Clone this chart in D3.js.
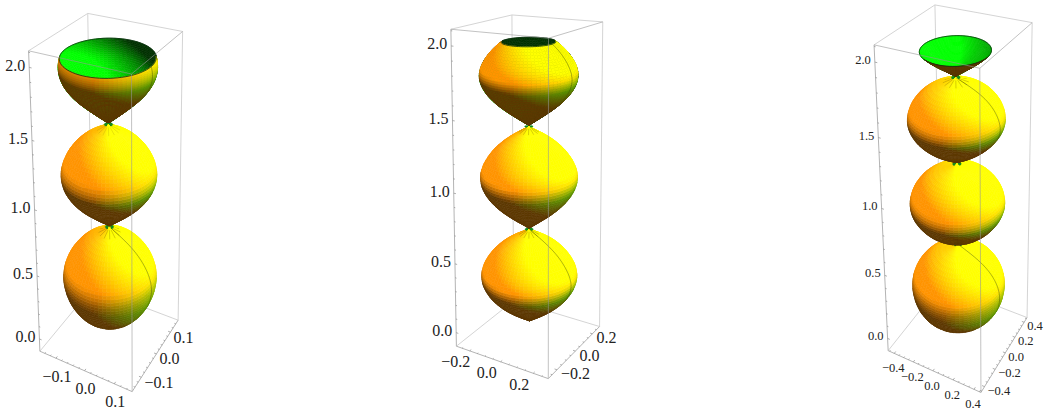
<!DOCTYPE html>
<html>
<head>
<meta charset="utf-8">
<script src="https://cdnjs.cloudflare.com/ajax/libs/d3/7.8.5/d3.min.js"></script>
<style>
  body { margin: 0; background: #fff; }
  text { font-family: "Liberation Serif", serif; fill: #222; }
</style>
</head>
<body>
<svg id="chart" width="1049" height="415"></svg>
<script>
// values
const zTicks = [0, 0.5, 1, 1.5, 2];
const zDomain = [-0.1, 2.11];

const xTicks1 = [-0.1, 0, 0.1];
const xTicks2 = [-0.2, 0, 0.2];
const xTicks3 = [-0.4, -0.2, 0, 0.2, 0.4];

// z at the bulb ends, last one is the open rim
const zBreaks1 = [0.0, 0.77, 1.53, 2.0];
const zBreaks2 = [0.015, 0.69, 1.42, 2.0];
const zBreaks3 = [0.0, 0.62, 1.22, 1.82, 2.0];

const rMax1 = 0.142;
const rMax2 = 0.265;
const rMax3 = 0.41;

// radius / rMax at t = 0, 0.1 ... 1 along one bulb
const shape1 = [0, 0.27, 0.53, 0.77, 0.93, 1, 0.97, 0.87, 0.7, 0.43, 0];
const shape2 = [0, 0.3, 0.58, 0.8, 0.94, 1, 0.96, 0.84, 0.66, 0.38, 0];
const shape3 = [0, 0.28, 0.56, 0.78, 0.93, 1, 0.98, 0.9, 0.75, 0.48, 0];

// the lowest bulb is rounder underneath in the first and third plot
const lowest1 = [0, 0.46, 0.72, 0.87, 0.96, 1, 0.97, 0.87, 0.7, 0.43, 0];
const lowest2 = shape2;
const lowest3 = [0, 0.5, 0.76, 0.9, 0.97, 1, 0.98, 0.9, 0.75, 0.48, 0];

// fraction of a bulb shown in the last, cut open piece
const rimT1 = 0.6;
const rimT2 = 0.84;
const rimT3 = 0.27;

const plots = [
  { xTicks: xTicks1, minor: 0.02, range: 0.158, zBreaks: zBreaks1, rMax: rMax1, shape: shape1, lowest: lowest1, rimT: rimT1, el: 35, font: 16,
    xOff: [1, 18], yOff: [3, 5], streaks: [0.4, 0.22, 0], innerLift: 0.62, lowestSlope: 0.7,
    corners: [[40, 351], [132.3, 391.7], [178.3, 320], [92, 288], [28.3, 50], [131.5, 75], [182.3, 30.7], [88.3, 14]] },
  { xTicks: xTicks2, minor: 0.05, range: 0.289, zBreaks: zBreaks2, rMax: rMax2, shape: shape2, lowest: lowest2, rimT: rimT2, el: 22, font: 16,
    xOff: [-14, 11], yOff: [4, 4], streaks: [0.4, 0.4, 0], innerLift: 0.1, lowestSlope: 1,
    corners: [[457, 346], [548, 379], [600, 326], [513, 301], [451, 29], [548, 38.3], [603, 22], [512, 15]] },
  { xTicks: xTicks3, minor: 0.05, range: 0.465, zBreaks: zBreaks3, rMax: rMax3, shape: shape3, lowest: lowest3, rimT: rimT3, el: 35, font: 12.5,
    xOff: [-1, 15], yOff: [3, 4], streaks: [0, 0, 0.4, 0], innerLift: 0.62, lowestSlope: 0.7,
    corners: [[888, 350], [981, 393], [1027, 317], [941, 285], [874, 45], [980, 68.3], [1032, 22.7], [935, 4.7]] }
];

const boxHeight = 3.4;
const svg = d3.select("#chart");
svg.append("defs").append("filter").attr("id", "soft")
  .attr("x", "-5%").attr("y", "-5%").attr("width", "110%").attr("height", "110%")
  .append("feGaussianBlur").attr("stdDeviation", 0.4);

// unit cube -> pixels, least squares through the 8 box corners
function fitCamera(corners) {
  const cube = [[0,0,0],[1,0,0],[1,1,0],[0,1,0],[0,0,1],[1,0,1],[1,1,1],[0,1,1]];
  const rows = [], rhs = [];
  cube.forEach((c, i) => {
    const [u, v] = corners[i];
    rows.push([c[0], c[1], c[2], 1, 0, 0, 0, 0, -u*c[0], -u*c[1], -u*c[2]]); rhs.push(u);
    rows.push([0, 0, 0, 0, c[0], c[1], c[2], 1, -v*c[0], -v*c[1], -v*c[2]]); rhs.push(v);
  });
  const n = 11;
  const m = d3.range(n).map(i => d3.range(n + 1).map(j =>
    d3.sum(rows, (r, k) => r[i] * (j < n ? r[j] : rhs[k]))));
  for (let i = 0; i < n; i++) {
    let best = i;
    for (let k = i + 1; k < n; k++) if (Math.abs(m[k][i]) > Math.abs(m[best][i])) best = k;
    [m[i], m[best]] = [m[best], m[i]];
    for (let k = 0; k < n; k++) {
      if (k === i) continue;
      const f = m[k][i] / m[i][i];
      for (let j = i; j <= n; j++) m[k][j] -= f * m[i][j];
    }
  }
  const p = d3.range(n).map(i => m[i][n] / m[i][i]);
  return ([a, b, c]) => {
    const w = p[8]*a + p[9]*b + p[10]*c + 1;
    return [(p[0]*a + p[1]*b + p[2]*c + p[3]) / w, (p[4]*a + p[5]*b + p[6]*c + p[7]) / w, w];
  };
}

const norm = v => { const l = Math.hypot(...v); return v.map(d => d / l); };
const dot = (a, b) => a[0]*b[0] + a[1]*b[1] + a[2]*b[2];
const lightRed = norm([0.08, 0.85, 0.55]);
const lightGreen = norm([0.55, 0.7, 0.6]);
const lightInner = norm([0.6, 0.6, 0.35]);
const c255 = v => Math.round(255 * Math.min(1, v));

function shadeOuter(nv) {
  const r = 0.36 + 1.4 * Math.max(0, dot(nv, lightRed) + 0.2);
  const g = 0.22 + 0.8 * Math.max(0, dot(nv, lightGreen) + 0.2);
  return `rgb(${c255(r)},${c255(Math.max(g, 0.58 * Math.min(1, r)))},0)`;
}

function shadeInner(nv, lift) {
  return `rgb(0,${c255(Math.max(0.19, lift + 0.85 * dot(nv, lightInner)))},0)`;
}

const toD = pts => "M" + pts.map(p => p[0].toFixed(2) + "," + p[1].toFixed(2)).join("L");

function drawPlot(cfg) {
  const g = svg.append("g");
  const sx = d3.scaleLinear().domain([-cfg.range, cfg.range]).range([0, 1]);
  const sz = d3.scaleLinear().domain(zDomain).range([0, 1]);
  const cam = fitCamera(cfg.corners);
  const project = (x, y, z) => cam([sx(x), sx(y), sz(z)]);
  const xs = cfg.range, z0 = zDomain[0], z1 = zDomain[1];

  const el = cfg.el * Math.PI / 180;
  const right = [0.88, 0.476, 0];
  const view = [0.476 * Math.cos(el), -0.88 * Math.cos(el), Math.sin(el)];
  const up = [-0.476 * Math.sin(el), 0.88 * Math.sin(el), Math.cos(el)];

  const edge = (a, b, color, width) => g.append("path")
    .attr("d", toD([project(...a), project(...b)]))
    .attr("fill", "none").attr("stroke", color).attr("stroke-width", width);

  // back edges go under the surface
  const gridColor = "#cfcfcf";
  edge([-xs, xs, z0], [-xs, xs, z1], gridColor, 0.9);
  edge([-xs, xs, z0], [-xs, -xs, z0], gridColor, 0.9);
  edge([-xs, xs, z0], [xs, xs, z0], gridColor, 0.9);
  edge([-xs, xs, z1], [-xs, -xs, z1], gridColor, 0.9);
  edge([-xs, xs, z1], [xs, xs, z1], gridColor, 0.9);
  edge([xs, xs, z0], [xs, xs, z1], gridColor, 0.9);
  edge([-xs, -xs, z0], [-xs, -xs, z1], "#b4b4b4", 1);

  const f = d3.interpolateBasis(cfg.shape);
  const fLowest = d3.interpolateBasis(cfg.lowest);
  const items = [];
  const nT = 36, nPhi = 72;
  const last = cfg.zBreaks.length - 2;

  cfg.zBreaks.slice(0, -1).forEach((zb, s) => {
    const zStart = s > 0 ? zb + 0.008 : zb;
    const zTop = cfg.zBreaks[s + 1];
    const tMax = s === last ? cfg.rimT : 1;
    const zAt = t => zStart + (zTop - zStart) * t / tMax;
    const rAt = t => cfg.rMax * (s === 0 ? fLowest(t) : f(t));
    const point = (t, phi) => project(rAt(t) * Math.cos(phi), rAt(t) * Math.sin(phi), zAt(t));

    for (let i = 0; i < nT; i++) {
      const t0 = tMax * i / nT, t1 = tMax * (i + 1) / nT;
      let slope = ((rAt(t1) - rAt(t0)) / (2 * cfg.range)) /
        ((zAt(t1) - zAt(t0)) / (z1 - z0) * boxHeight);
      if (s === 0 && slope > 0) slope *= cfg.lowestSlope;
      for (let j = 0; j < nPhi; j++) {
        const a0 = 2 * Math.PI * j / nPhi, a1 = 2 * Math.PI * (j + 1) / nPhi, am = (a0 + a1) / 2;
        const q = [point(t0, a0), point(t0, a1), point(t1, a1), point(t1, a0)];
        const outer = d3.polygonArea(q) > 0;
        if (!outer && s !== last) continue;
        let n = norm([Math.cos(am), Math.sin(am), -slope]);
        if (!outer) n = n.map(d => -d);
        const nv = [dot(n, right), dot(n, up), dot(n, view)];
        const fill = outer ? shadeOuter(nv) : shadeInner(nv, cfg.innerLift);
        items.push({ d: toD(q) + "Z", fill, stroke: fill, sw: 0.6, w: d3.mean(q, p => p[2]) });
      }
    }

    // dark seam of the mesh at phi = 0
    if (s === 0 || s === 2) {
      for (let i = 0; i < 90; i++) {
        const t0 = tMax * i / 90, t1 = tMax * (i + 1) / 90;
        const q = [point(t0, 0), point(t0, 0.06), point(t1, 0.06), point(t1, 0)];
        if (d3.polygonArea(q) <= 0) continue;
        const a = point(t0, 0), b = point(t1, 0);
        items.push({ d: toD([a, b]), fill: "none", stroke: "#3c4a14", sw: 0.7, op: 0.6, w: a[2] - 0.004 });
      }
    }

    // short streaks and the green spot at a bulb tip
    if (s !== last) {
      if (cfg.streaks[s] > 0) {
        d3.range(0, 360, 30).forEach(deg => {
          const phi = deg * Math.PI / 180;
          const q = [point(0.93, phi), point(0.93, phi + 0.1), point(0.97, phi + 0.1), point(0.97, phi)];
          if (d3.polygonArea(q) <= 0) return;
          const a = point(0.945, phi), b = point(0.985, phi);
          items.push({ d: toD([a, b]), fill: "none", stroke: "#6e4f00", sw: 0.7, op: cfg.streaks[s], w: a[2] - 0.004 });
        });
      }
      const capR = cfg.range * 0.08;
      const cap = d3.range(0, 360, 30).map(deg => {
        const phi = deg * Math.PI / 180;
        return project(capR * Math.cos(phi), capR * Math.sin(phi), zTop);
      });
      items.push({ d: toD(cap) + "Z", fill: "#128a1c", stroke: "#128a1c", sw: 0.3, w: d3.mean(cap, p => p[2]) - 0.002 });
    }
  });

  // far to near
  items.sort((a, b) => b.w - a.w);
  const surface = g.append("g").attr("filter", "url(#soft)");
  surface.selectAll("path").data(items).join("path")
    .attr("d", d => d.d)
    .attr("fill", d => d.fill)
    .attr("stroke", d => d.stroke)
    .attr("stroke-width", d => d.sw)
    .attr("stroke-opacity", d => d.op === undefined ? 1 : d.op);

  // rim outline
  const zRim = cfg.zBreaks[cfg.zBreaks.length - 1], rRim = cfg.rMax * f(cfg.rimT);
  const rim = d3.range(0, 361, 5).map(deg => {
    const phi = deg * Math.PI / 180;
    return project(rRim * Math.cos(phi), rRim * Math.sin(phi), zRim);
  });
  g.append("path").attr("d", toD(rim)).attr("fill", "none").attr("stroke", "#0b3210").attr("stroke-width", 0.8);

  // front edges run over the surface
  const frontColor = "rgba(150,150,150,0.65)";
  edge([xs, -xs, z0], [xs, -xs, z1], frontColor, 0.9);
  edge([-xs, -xs, z1], [xs, -xs, z1], frontColor, 0.9);
  edge([xs, -xs, z1], [xs, xs, z1], frontColor, 0.9);
  edge([-xs, -xs, z0], [xs, -xs, z0], "#b4b4b4", 1);
  edge([xs, -xs, z0], [xs, xs, z0], "#b4b4b4", 1);

  // ticks
  const tickColor = "#8c8c8c";
  const tLen = cfg.range * 0.05;
  const minorX = d3.range(-10, 11).map(i => i * cfg.minor).filter(d => Math.abs(d) < cfg.range);
  minorX.forEach(d => {
    const major = cfg.xTicks.some(v => Math.abs(v - d) < 1e-6);
    const l = major ? tLen : tLen * 0.6;
    edge([d, -xs, z0], [d, -xs + l, z0], tickColor, 0.7);
    edge([xs, d, z0], [xs - l, d, z0], tickColor, 0.7);
  });
  d3.range(0, 22).map(i => i / 10).forEach(d => {
    const major = zTicks.some(v => Math.abs(v - d) < 1e-6);
    edge([-xs, -xs, d], [-xs + (major ? tLen : tLen * 0.6), -xs, d], tickColor, 0.7);
  });

  // labels
  const fmt = d3.format(".1f");
  const label = (p, dx, dy, anchor, txt) => g.append("text")
    .attr("x", p[0] + dx).attr("y", p[1] + dy)
    .attr("text-anchor", anchor)
    .attr("dominant-baseline", "central")
    .attr("font-size", cfg.font)
    .text(txt.replace("-", "\u2212"));

  zTicks.forEach(d => label(project(-xs, -xs, d), -4, -2, "end", fmt(d)));
  cfg.xTicks.forEach(d => label(project(d, -xs, z0), cfg.xOff[0], cfg.xOff[1], "middle", fmt(d)));
  cfg.xTicks.forEach(d => label(project(xs, d, z0), cfg.yOff[0], cfg.yOff[1], "start", fmt(d)));
}

plots.forEach(drawPlot);
</script>
</body>
</html>
